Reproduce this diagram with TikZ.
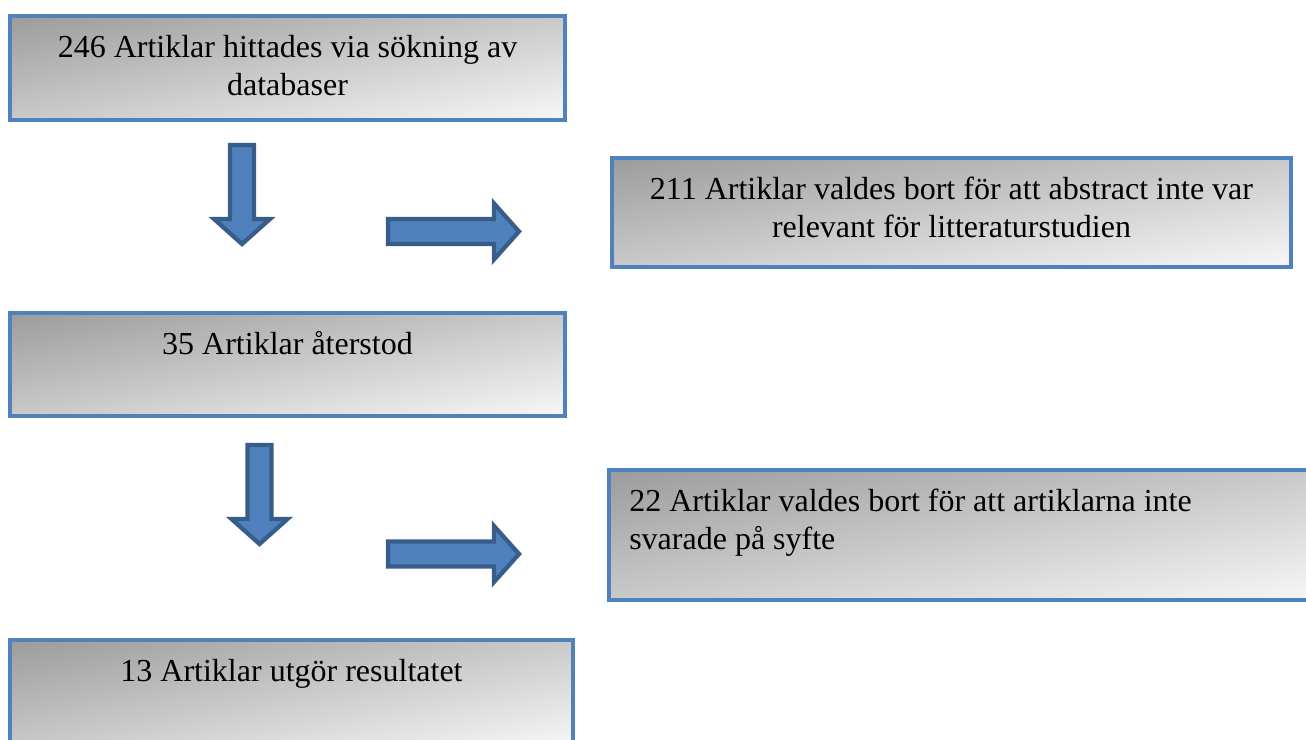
\documentclass[tikz,border=0pt]{standalone}
\usepackage{fontspec}
\setmainfont{Liberation Serif}
\usepackage{tikz}
\usetikzlibrary{positioning, fit}
\definecolor{boxblue}{HTML}{4F81BD}
\definecolor{arrowedge}{HTML}{385D8A}

% grey shade: dark in the top left corner, light in the bottom right
\pgfdeclarefunctionalshading{boxshade}{\pgfpoint{0bp}{0bp}}{\pgfpoint{100bp}{100bp}}{}{
  sub 50 add 100 div 0.36 mul 0.61 add dup dup
}

\begin{document}
\begin{tikzpicture}[
        x=0.375pt, y=-0.375pt,
        box/.style={rectangle, draw=boxblue, line width=1.7pt, inner sep=0pt,
                    shade, shading=boxshade},
        boxtext/.style={inner sep=0pt, align=center,
                        font=\fontsize{12}{14.1}\selectfont},
        blockarrow/.style={fill=boxblue, draw=arrowedge, line width=1.6pt},
        downarrow/.pic={\draw[blockarrow] (-12,0) -- (-12,74) -- (-28,74)
                        -- (0,99) -- (28,74) -- (12,74) -- (12,0) -- cycle;},
        rightarrow/.pic={\draw[blockarrow] (0,-12.5) -- (106,-12.5) -- (106,-28)
                        -- (131,0) -- (106,28) -- (106,12.5) -- (0,12.5) -- cycle;}
    ]
    \path[use as bounding box, clip] (0,0) rectangle (1306,740);

    %% left column
    \node[box, fit={(10,16) (565,120)}] (found) {};
    \node[boxtext, below=6.5pt of found.north] (foundtext)
          {\strut 246 Artiklar hittades via sökning av\\databaser};

    \node[box, fit={(10,313) (565,416)}] (left) {};
    \node[boxtext, below=6.5pt of left.north] (lefttext)
          {\strut 35 Artiklar återstod};

    \node[box, fit={(10,640) (573,748)}] (result) {};
    \node[boxtext, below=6.5pt of result.north] (resulttext)
          {\strut 13 Artiklar utgör resultatet};

    %% right column
    \node[box, fit={(612,158) (1291,267)}] (abstract) {};
    \node[boxtext, below=6.5pt of abstract.north] (abstracttext)
          {\strut 211 Artiklar valdes bort för att abstract inte var\\relevant för litteraturstudien};

    \node[box, fit={(609,470) (1320,600)}] (aim) {};
    \node[boxtext, align=left, below right=6.5pt and 8.25pt of aim.north west]
          (aimtext) {\strut 22 Artiklar valdes bort för att artiklarna inte\\svarade på syfte};

    %% block arrows
    \pic (down1)  at (242,145)   {downarrow};
    \pic (right1) at (388,231.5) {rightarrow};
    \pic (down2)  at (259.5,445) {downarrow};
    \pic (right2) at (388,554)   {rightarrow};

\end{tikzpicture}
\end{document}
